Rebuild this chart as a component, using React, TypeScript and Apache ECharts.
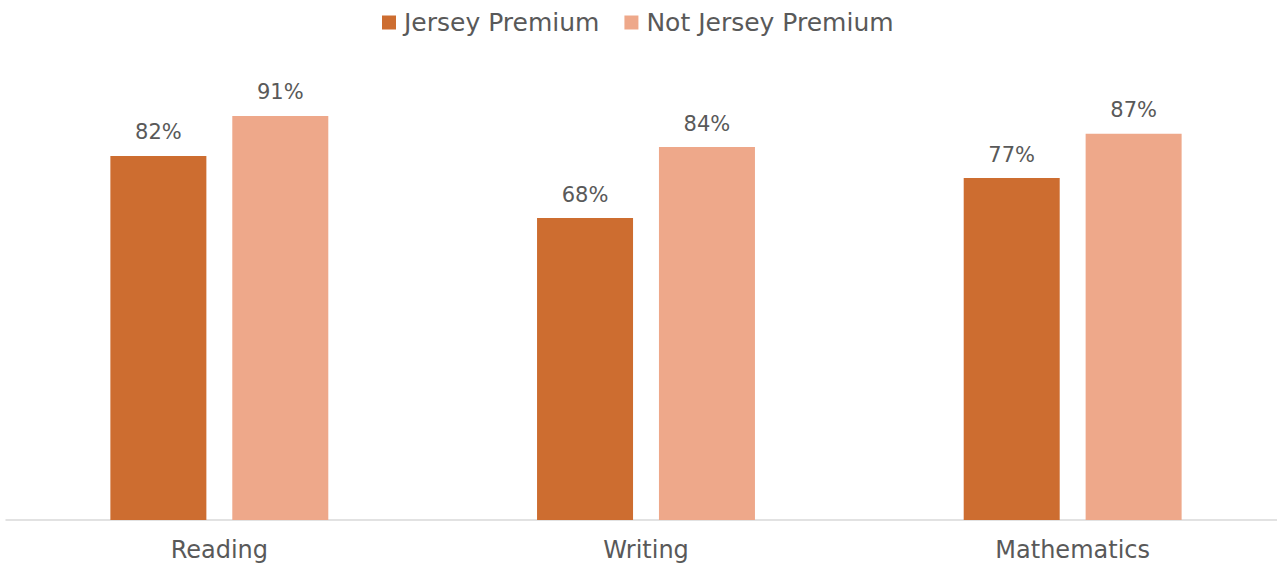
import React, { useEffect, useRef } from "react";
import * as echarts from "echarts";

const categories = ["Reading", "Writing", "Mathematics"];
const seriesNames = ["Jersey Premium", "Not Jersey Premium"];
const jerseyPremium = [82, 68, 77];
const notJerseyPremium = [91, 84, 87];

const FONT = "DejaVu Sans";
const TEXT = "#595959";

export default function App() {
  const ref = useRef<HTMLDivElement>(null);
  useEffect(() => {
    if (!ref.current) return;
    const chart = echarts.init(ref.current, null, { renderer: "svg" });
    const label = {
      show: true,
      position: "top",
      distance: 13,
      color: TEXT,
      fontFamily: FONT,
      fontSize: 21,
      formatter: (p: any) => `${p.value}%`,
    };
    chart.setOption({
      animation: false,
      textStyle: { fontFamily: FONT },
      legend: {
        data: seriesNames,
        top: 5,
        left: 377,
        icon: "rect",
        itemWidth: 14,
        itemHeight: 14,
        itemGap: 25,
        textStyle: { color: TEXT, fontSize: 25, fontFamily: FONT, padding: [0, 0, 0, 3] },
      },
      grid: { left: 6, right: 0, top: 76, bottom: 44, containLabel: false },
      xAxis: {
        type: "category",
        data: categories,
        axisTick: { show: false },
        axisLine: { lineStyle: { color: "#d9d9d9", width: 1.5 } },
        axisLabel: { color: TEXT, fontSize: 24, fontFamily: FONT, margin: 18 },
      },
      yAxis: {
        type: "value",
        min: 0,
        max: 100,
        show: false,
        splitLine: { show: false },
      },
      series: [
        {
          name: seriesNames[0],
          type: "bar",
          data: jerseyPremium,
          barWidth: "22.5%",
          barGap: "27%",
          itemStyle: { color: "#CD6D30" },
          label,
        },
        {
          name: seriesNames[1],
          type: "bar",
          data: notJerseyPremium,
          barWidth: "22.5%",
          itemStyle: { color: "#EEA88A" },
          label,
        },
      ],
    });
    return () => chart.dispose();
  }, []);
  return (
    <div
      style={{ position: "absolute", left: 0, top: 0, width: 1277, height: 564, overflow: "hidden", background: "#fff" }}
    >
      <div ref={ref} style={{ width: 1286, height: 564 }} />
    </div>
  );
}
